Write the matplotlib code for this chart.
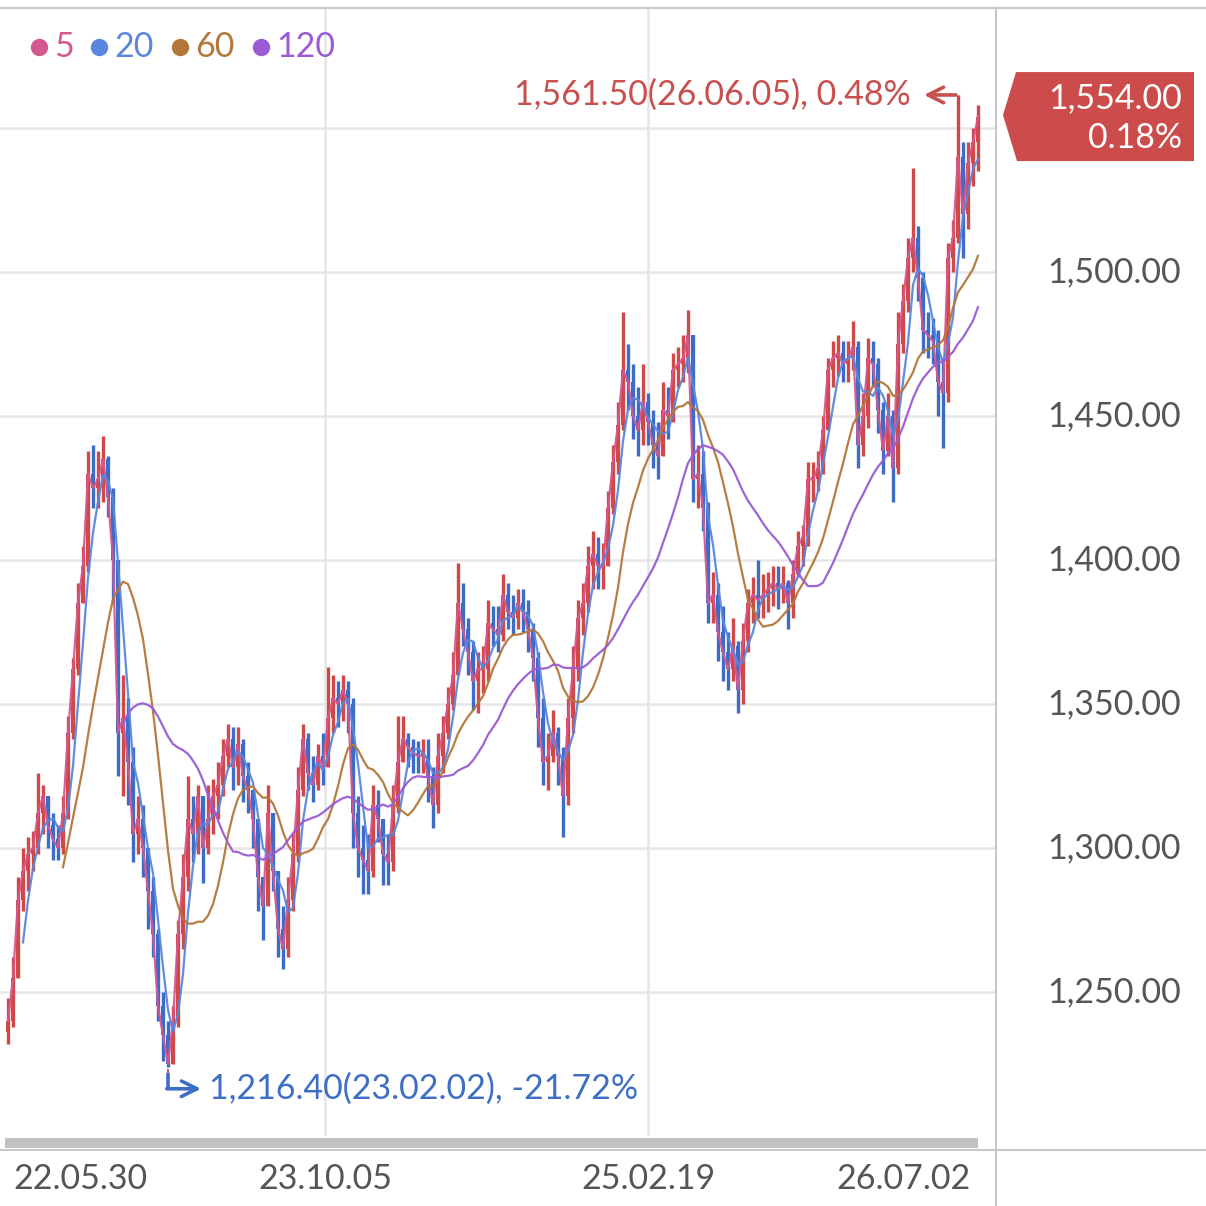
import matplotlib
matplotlib.use('Agg')
import matplotlib.pyplot as plt
import matplotlib.transforms as mtransforms
from matplotlib.patches import Polygon, Rectangle
from matplotlib.lines import Line2D
import numpy as np
import pandas as pd

plt.rcParams['font.family'] = ['Lato', 'DejaVu Sans']

# ---------------- data (each candle ~ 5 trading days) ----------------
days_per_candle = 5
first_open = 1236

close = [
    1240, 1255, 1282, 1292, 1298, 1300, 1312, 1318, 1308, 1303,
    1300, 1312, 1340, 1362, 1385, 1398, 1430, 1425, 1428, 1435,
    1422, 1400, 1340, 1345, 1330, 1305, 1310, 1300, 1285, 1270,
    1245, 1235, 1225, 1240, 1270, 1290, 1310, 1305, 1318, 1300,
    1310, 1318, 1322, 1332, 1338, 1328, 1336, 1325, 1320, 1310,
    1290, 1280, 1312, 1292, 1272, 1265, 1282, 1298, 1320, 1338,
    1326, 1322, 1332, 1328, 1345, 1352, 1350, 1355, 1350, 1312,
    1300, 1296, 1292, 1315, 1310, 1298, 1295, 1315, 1330, 1338,
    1335, 1333, 1332, 1332, 1325, 1315, 1332, 1340, 1350, 1360,
    1385, 1376, 1368, 1358, 1362, 1362, 1378, 1376, 1374, 1388,
    1382, 1380, 1385, 1382, 1376, 1366, 1345, 1330, 1332, 1340,
    1332, 1318, 1345, 1362, 1380, 1385, 1398, 1402, 1398, 1398,
    1418, 1434, 1447, 1466, 1462, 1450, 1445, 1455, 1448, 1440,
    1436, 1452, 1450, 1466, 1468, 1470, 1478, 1428, 1430, 1418,
    1385, 1388, 1375, 1368, 1362, 1370, 1355, 1372, 1385, 1388,
    1386, 1388, 1390, 1392, 1390, 1392, 1385, 1395, 1405, 1408,
    1428, 1428, 1432, 1445, 1466, 1470, 1472, 1468, 1470, 1474,
    1440, 1450, 1470, 1468, 1452, 1438, 1450, 1432, 1475, 1490,
    1505, 1512, 1498, 1480, 1478, 1476, 1462, 1458, 1505, 1512,
    1540, 1520, 1538, 1545, 1554,
]

high = [
    1248, 1262, 1290, 1300, 1304, 1306, 1326, 1322, 1318, 1312,
    1308, 1318, 1346, 1366, 1392, 1405, 1438, 1440, 1438, 1443,
    1436, 1425, 1400, 1360, 1352, 1335, 1318, 1315, 1300, 1290,
    1272, 1250, 1240, 1245, 1275, 1298, 1325, 1318, 1322, 1315,
    1322, 1324, 1330, 1338, 1343, 1342, 1342, 1338, 1330, 1320,
    1305, 1290, 1322, 1312, 1290, 1280, 1290, 1305, 1328, 1343,
    1340, 1332, 1336, 1340, 1363, 1360, 1358, 1360, 1358, 1352,
    1318, 1308, 1305, 1322, 1320, 1310, 1305, 1322, 1346, 1346,
    1340, 1338, 1337, 1338, 1338, 1328, 1340, 1346, 1356, 1368,
    1399, 1392, 1380, 1372, 1368, 1370, 1386, 1384, 1384, 1395,
    1392, 1388, 1390, 1390, 1386, 1378, 1368, 1352, 1340, 1348,
    1342, 1335, 1352, 1370, 1386, 1392, 1405, 1410, 1408, 1406,
    1424, 1440, 1455, 1486, 1475, 1468, 1460, 1468, 1458, 1452,
    1448, 1462, 1460, 1472, 1474, 1478, 1487, 1475, 1440, 1438,
    1420, 1396, 1392, 1384, 1375, 1380, 1372, 1378, 1390, 1394,
    1400, 1395, 1396, 1398, 1398, 1398, 1393, 1400, 1410, 1412,
    1434, 1434, 1438, 1450, 1470, 1476, 1478, 1476, 1476, 1483,
    1476, 1458, 1477, 1476, 1470, 1455, 1458, 1452, 1486, 1496,
    1512, 1536, 1516, 1500, 1486, 1484, 1480, 1470, 1510, 1518,
    1561.5, 1545, 1545, 1550, 1558,
]

low = [
    1232, 1238, 1255, 1278, 1285, 1292, 1298, 1305, 1300, 1296,
    1296, 1298, 1310, 1338, 1360, 1385, 1396, 1418, 1418, 1420,
    1415, 1385, 1325, 1318, 1315, 1295, 1298, 1290, 1272, 1262,
    1240, 1226, 1224, 1230, 1238, 1265, 1285, 1295, 1298, 1288,
    1298, 1305, 1310, 1318, 1328, 1320, 1322, 1316, 1312, 1300,
    1278, 1268, 1280, 1285, 1262, 1258, 1262, 1278, 1295, 1318,
    1320, 1316, 1320, 1322, 1328, 1340, 1342, 1344, 1340, 1300,
    1290, 1284, 1284, 1290, 1302, 1287, 1287, 1292, 1312, 1330,
    1328, 1326, 1326, 1326, 1316, 1307, 1312, 1326, 1338, 1348,
    1360, 1370, 1360, 1348, 1347, 1354, 1358, 1370, 1368, 1372,
    1376, 1374, 1376, 1375, 1368, 1358, 1335, 1322, 1320, 1330,
    1322, 1304, 1315, 1340, 1358, 1374, 1382, 1390, 1390, 1390,
    1398, 1416, 1430, 1445, 1452, 1442, 1436, 1440, 1440, 1432,
    1428, 1436, 1442, 1448, 1460, 1462, 1465, 1420, 1418, 1410,
    1378, 1378, 1365, 1358, 1355, 1358, 1347, 1350, 1368, 1378,
    1380, 1380, 1382, 1384, 1383, 1385, 1376, 1380, 1394, 1398,
    1405, 1420, 1424, 1430, 1445, 1460, 1464, 1462, 1462, 1466,
    1432, 1436, 1446, 1460, 1444, 1430, 1436, 1420, 1430, 1472,
    1486, 1500, 1490, 1472, 1470, 1468, 1450, 1439, 1455, 1500,
    1510, 1505, 1515, 1530, 1535,
]

ma_periods = [5, 20, 60, 120]
ma_colors = ['#d4588f', '#5a86dd', '#b3773a', '#9b5bd4']

x_tick_labels = ['22.05.30', '23.10.05', '25.02.19', '26.07.02']
x_tick_pos = [14.4, 63.4, 128.0, 179.0]
x_grid_idx = [1, 2]

y_ticks = [1250, 1300, 1350, 1400, 1450, 1500, 1550]
y_labelled = [1250, 1300, 1350, 1400, 1450, 1500]

last_price = 1554.00
last_change = 0.18
max_price = 1561.50
max_label = '1,561.50(26.06.05), 0.48%'
min_price = 1216.40
min_label = '1,216.40(23.02.02), -21.72%'

UP = '#d04848'
DOWN = '#3d6bc8'
RED_TXT = '#c74f4e'
BLUE_TXT = '#3f6fc4'
GRID = '#e6e6e6'
TXT = '#555555'
FS = 24.5

# ---------------- figure ----------------
W = 1206
fig = plt.figure(figsize=(W / 100, W / 100), dpi=100)
fig.patch.set_facecolor('white')

def fx(px):
    return px / W

def fy(py):
    return 1 - py / W

ax = fig.add_axes([0, fy(1136), fx(995), (1136 - 8) / W])
ax.set_xlim(-1.6, 197.4)
ax.set_ylim(1200, 1591.7)
for s in ax.spines.values():
    s.set_visible(False)
ax.set_xticks([])
ax.set_yticks([])

for v in y_ticks:
    ax.axhline(v, color=GRID, lw=1.8, zorder=0)
for k in x_grid_idx:
    ax.axvline(x_tick_pos[k], color=GRID, lw=1.8, zorder=0)

n = len(close)
x = np.arange(n)
c = np.array(close, float)
o = np.array([first_open] + close[:-1], float)
h = np.maximum(np.array(high, float), np.maximum(o, c))
l = np.minimum(np.array(low, float), np.minimum(o, c))
up = c >= o
cols = np.where(up, UP, DOWN)

ax.vlines(x, l, h, colors=cols, lw=2.4, zorder=2)
body_h = np.maximum(np.abs(c - o), 1.0)
ax.bar(x, body_h, bottom=np.minimum(o, c), width=0.95, color=cols,
       linewidth=0, zorder=2)

s = pd.Series(c)
for p, col in zip(ma_periods, ma_colors):
    w = max(1, p // days_per_candle)
    ma = s.rolling(w).mean()
    ax.plot(x, ma, color=col, lw=1.6, zorder=3, alpha=0.95)

# max annotation
imax = int(np.argmax(h))
ax.annotate('', xy=(imax - 6.8, max_price), xytext=(imax - 0.4, max_price),
            arrowprops=dict(arrowstyle='->', color=RED_TXT, lw=2.6,
                            mutation_scale=28, shrinkA=0, shrinkB=0),
            zorder=5)
ax.text(imax - 9.4, max_price, max_label, ha='right', va='center',
        fontsize=FS, color=RED_TXT, zorder=5)

# min annotation
imin = int(np.argmin(l))
ax.vlines(imin, min_price + 5.5, l[imin], colors=UP, lw=1.4,
          linestyles=(0, (2, 2)), zorder=4)
ax.plot([imin, imin], [min_price + 5.5, min_price], color=BLUE_TXT, lw=2.6,
        zorder=5, solid_capstyle='butt')
ax.annotate('', xy=(imin + 6.6, min_price), xytext=(imin - 0.25, min_price),
            arrowprops=dict(arrowstyle='->', color=BLUE_TXT, lw=2.6,
                            mutation_scale=28, shrinkA=0, shrinkB=0),
            zorder=5)
ax.text(imin + 8.2, min_price, min_label, ha='left', va='center',
        fontsize=FS, color=BLUE_TXT, zorder=5)

# right-side price labels
tr = mtransforms.blended_transform_factory(ax.transAxes, ax.transData)
for v in y_labelled:
    ax.text(1181 / 995, v, f'{v:,.2f}', transform=tr, ha='right',
            va='center', fontsize=FS, color=TXT, clip_on=False)

# x labels
trx = mtransforms.blended_transform_factory(ax.transData, ax.transAxes)
for pos, lab in zip(x_tick_pos, x_tick_labels):
    ax.text(pos, (1136 - 1179) / 1128, lab, transform=trx, ha='center',
            va='center', fontsize=FS, color=TXT, clip_on=False)

# last price box
yc_px = ax.transData.transform((0, last_price))[1]  # pixels from bottom
yc = yc_px / W
hh = 44.5 / W
box = Polygon([(fx(1016), yc + hh), (fx(1194), yc + hh), (fx(1194), yc - hh),
               (fx(1017), yc - hh), (fx(1003), yc + 1.5 / W)],
              closed=True, transform=fig.transFigure, facecolor='#cc4b4b',
              edgecolor='none', zorder=5)
fig.patches.append(box)
fig.text(fx(1182), yc + 18 / W, f'{last_price:,.2f}', ha='right',
         va='center', fontsize=FS, color='white', zorder=6)
fig.text(fx(1182), yc - 21 / W, f'{last_change:.2f}%', ha='right',
         va='center', fontsize=FS, color='white', zorder=6)

# frame lines and scrollbar
fig.add_artist(Line2D([0, 1], [fy(8), fy(8)], color='#c8c8c8', lw=1.5))
fig.add_artist(Line2D([0, 1], [fy(1150), fy(1150)], color='#c8c8c8', lw=1.5))
fig.add_artist(Line2D([fx(996), fx(996)], [fy(8), 0], color='#c8c8c8', lw=1.5))
fig.patches.append(Rectangle((fx(5), fy(1148)), fx(978) - fx(5), 10 / W,
                             transform=fig.transFigure, facecolor='#c2c2c2',
                             edgecolor='none'))

# legend
dot_x = [39, 99, 180, 261]
for p, col, dx in zip(ma_periods, ma_colors, dot_x):
    fig.add_artist(Line2D([fx(dx)], [fy(47)], marker='o', markersize=12.5,
                          color=col, markeredgewidth=0, linestyle='none'))
    fig.text(fx(dx + 15), fy(47), str(p), ha='left', va='center',
             fontsize=FS, color=col)

fig.savefig('out.png', dpi=100, facecolor='white')
